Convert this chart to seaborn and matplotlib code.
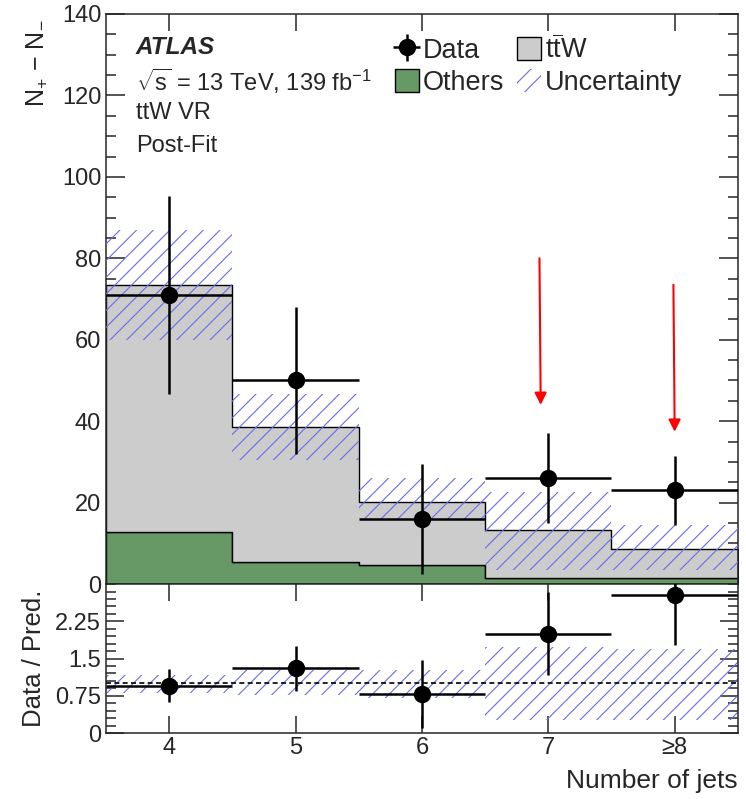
import numpy as np
import pandas as pd
import matplotlib
matplotlib.use("Agg")
import matplotlib.pyplot as plt
from matplotlib.patches import Patch
from matplotlib.ticker import MultipleLocator
import seaborn as sns

# ---------------- data ----------------
njets = [4, 5, 6, 7, 8]
njet_labels = ["4", "5", "6", "7", "≥8"]
bin_edges = [3.5, 4.5, 5.5, 6.5, 7.5, 8.5]

others = [12.8, 5.5, 4.8, 1.4, 1.4]
ttw = [60.7, 33.0, 15.3, 11.9, 7.1]
unc_low = [60.0, 30.5, 15.7, 3.4, 3.4]
unc_high = [87.0, 46.7, 26.0, 22.7, 14.5]

data = [71, 50, 16, 26, 23]
data_err = [24.4, 18.0, 13.5, 11.0, 8.4]

ratio = [0.955, 1.30, 0.79, 2.00, 2.77]
ratio_err = [0.33, 0.45, 0.69, 0.84, 1.00]
ratio_unc_low = [0.80, 0.76, 0.71, 0.26, 0.26]
ratio_unc_high = [1.17, 1.27, 1.27, 1.73, 1.69]

arrow_x = [6.93, 7.99]
arrow_top = [80, 73.5]
arrow_tip = [44, 37.4]

# ---------------- style ----------------
sns.set_style("ticks")
plt.rcParams["font.family"] = ["Liberation Sans", "DejaVu Sans"]
plt.rcParams["mathtext.fontset"] = "custom"
plt.rcParams["mathtext.rm"] = "Liberation Sans"
plt.rcParams["mathtext.it"] = "Liberation Sans:italic"
plt.rcParams["mathtext.bf"] = "Liberation Sans:bold"
plt.rcParams["hatch.linewidth"] = 0.8
plt.rcParams["axes.linewidth"] = 1.1

GREEN = "#669966"
GREY = "#cccccc"
HATCH = "#6a6aee"

fig = plt.figure(figsize=(7.46, 7.99), dpi=100)
ax1 = fig.add_axes([0.1421, 0.269, 0.847, 0.7135])
ax2 = fig.add_axes([0.1421, 0.0826, 0.847, 0.1864])

# stacked prediction
df = pd.DataFrame({
    "x": njets * 2,
    "w": ttw + others,
    "proc": ["ttW"] * 5 + ["Others"] * 5,
})
sns.histplot(data=df, x="x", weights="w", hue="proc", hue_order=["ttW", "Others"],
             multiple="stack", bins=bin_edges, element="step", fill=True,
             palette={"ttW": GREY, "Others": GREEN}, alpha=1, edgecolor="black",
             linewidth=1.0, legend=False, ax=ax1)

# uncertainty band
lo = np.append(unc_low, unc_low[-1])
hi = np.append(unc_high, unc_high[-1])
ax1.fill_between(bin_edges, lo, hi, step="post", facecolor="none", edgecolor=HATCH,
                 hatch="//", linewidth=0, zorder=3)

# data
data_h = ax1.errorbar(njets, data, yerr=data_err, xerr=0.5, fmt="o", color="black",
                      markersize=11.5, elinewidth=1.8, capsize=0, zorder=5)

# arrows
for xa, yt, yb in zip(arrow_x, arrow_top, arrow_tip):
    ax1.annotate("", xy=(xa + 0.01, yb), xytext=(xa, yt),
                 arrowprops=dict(arrowstyle="-|>", color="red", lw=1.5,
                                 mutation_scale=18, shrinkA=0, shrinkB=0), zorder=6)

ax1.set_xlim(3.5, 8.5)
ax1.set_ylim(0, 140)
ax1.yaxis.set_major_locator(MultipleLocator(20))
ax1.yaxis.set_minor_locator(MultipleLocator(5))
ax1.set_xticks(njets)
ax1.set_xticklabels([])
ax1.set_xlabel("")
ax1.set_ylabel(r"N$_{+}$ $-$ N$_{-}$", fontsize=18, loc="top")
ax1.yaxis.set_label_coords(-0.09, 0.99)
ax1.tick_params(axis="both", which="both", direction="in", top=True, right=True,
                labelsize=17)
ax1.tick_params(axis="y", which="major", length=14, width=1.1)
ax1.tick_params(axis="y", which="minor", length=7, width=1.1)
ax1.tick_params(axis="x", which="major", length=12, width=1.1)

# texts
fig.text(0.1823, 1 - 48 / 799, "ATLAS", fontsize=17.5, fontweight="bold",
         fontstyle="italic", va="center")
fig.text(0.1823, 1 - 81 / 799,
         r"$\mathregular{\sqrt{s}}$ = 13 TeV, 139 fb$\mathregular{^{-1}}$",
         fontsize=17, va="center")
fig.text(0.1823, 1 - 113 / 799, "ttW VR", fontsize=17, va="center")
fig.text(0.1823, 1 - 146 / 799, "Post-Fit", fontsize=17, va="center")

# legend
handles = [data_h, Patch(facecolor=GREY, edgecolor="black", linewidth=1.0),
           Patch(facecolor=GREEN, edgecolor="black", linewidth=1.0),
           Patch(facecolor="none", edgecolor=HATCH, hatch="//", linewidth=0)]
labels = ["Data", r"$\mathregular{t\overline{t}W}$", "Others", "Uncertainty"]
order = [0, 2, 1, 3]
leg = ax1.legend([handles[i] for i in order], [labels[i] for i in order], ncol=2,
                 loc="upper left", bbox_to_anchor=(0.457, 0.963), frameon=False,
                 fontsize=19.5, handlelength=0.9, handleheight=0.9,
                 handletextpad=0.15, columnspacing=0.45, labelspacing=0.2,
                 borderaxespad=0, borderpad=0)

# ratio panel
rlo = np.append(ratio_unc_low, ratio_unc_low[-1])
rhi = np.append(ratio_unc_high, ratio_unc_high[-1])
ax2.fill_between(bin_edges, rlo, rhi, step="post", facecolor="none", edgecolor=HATCH,
                 hatch="//", linewidth=0, zorder=2)
ax2.axhline(1.0, color="black", linestyle=(0, (3, 2)), linewidth=1.2, zorder=3)
ax2.errorbar(njets, ratio, yerr=ratio_err, xerr=0.5, fmt="o", color="black",
             markersize=11.5, elinewidth=1.8, capsize=0, zorder=5, clip_on=True)
ax2.set_xlim(3.5, 8.5)
ax2.set_ylim(0, 3)
ax2.set_yticks([0, 0.75, 1.5, 2.25])
ax2.set_yticklabels(["0", "0.75", "1.5", "2.25"])
ax2.yaxis.set_minor_locator(MultipleLocator(0.15))
ax2.set_xticks(njets)
ax2.set_xticklabels(njet_labels)
ax2.tick_params(axis="both", which="both", direction="in", top=True, right=True,
                labelsize=17)
ax2.tick_params(axis="y", which="major", length=13, width=1.1)
ax2.tick_params(axis="y", which="minor", length=7, width=1.1)
ax2.tick_params(axis="x", which="major", length=12, width=1.1, pad=3)
ax2.set_ylabel("Data / Pred.", fontsize=18.5)
ax2.yaxis.set_label_coords(-0.095, 0.5)
ax2.set_xlabel("Number of jets", fontsize=19, loc="right")
ax2.xaxis.set_label_coords(1.0, -0.24)

fig.savefig("out.png", dpi=100)
